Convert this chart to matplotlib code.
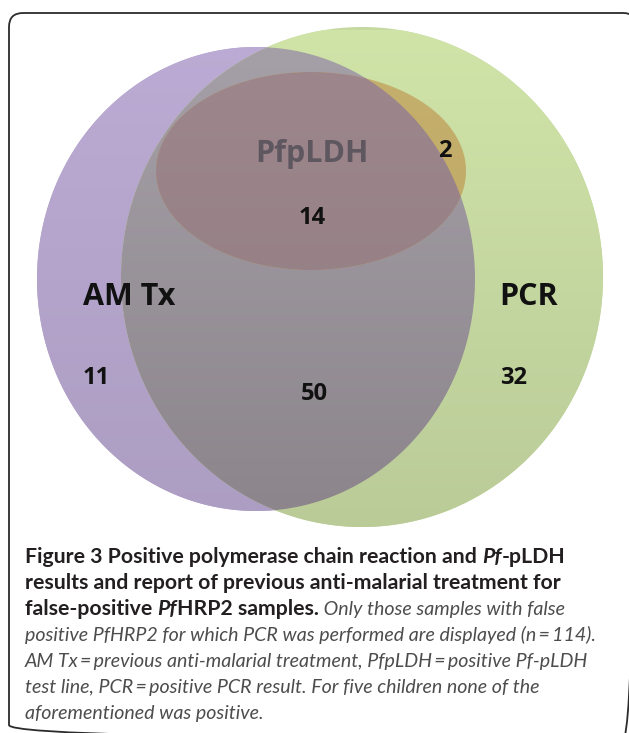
import numpy as np
import matplotlib
matplotlib.use('Agg')
import matplotlib.pyplot as plt
from matplotlib.colors import to_rgb
from matplotlib.patches import Polygon, FancyBboxPatch

# --- data -------------------------------------------------------------
set_names = ['AM Tx', 'PCR', 'PfpLDH']
region_names = ['AM Tx only', 'PCR only', 'AM Tx + PCR', 'AM Tx + PCR + PfpLDH', 'PCR + PfpLDH']
region_counts = [11, 32, 50, 14, 2]

caption_lines = [
    [('Figure 3 Positive polymerase chain reaction and ', 'b'), ('Pf', 'bi'), ('-pLDH', 'b')],
    [('results and report of previous anti-malarial treatment for', 'b')],
    [('false-positive ', 'b'), ('Pf', 'bi'), ('HRP2 samples.', 'b'), (' Only those samples with false', 'i')],
    [('positive PfHRP2 for which PCR was performed are displayed (n\u2009=\u2009114).', 'i')],
    [('AM Tx\u2009=\u2009previous anti-malarial treatment, PfpLDH\u2009=\u2009positive Pf-pLDH', 'i')],
    [('test line, PCR\u2009=\u2009positive PCR result. For five children none of the', 'i')],
    [('aforementioned was positive.', 'i')],
]

W, H = 629, 733
plt.rcParams['font.family'] = ['Lato', 'DejaVu Sans']

fig = plt.figure(figsize=(W / 100, H / 100), dpi=100)
ax = fig.add_axes([0, 0, 1, 1])


def ellipse_pts(cx, cy, rx, ry, n=360):
    t = np.linspace(0, 2 * np.pi, n, endpoint=False)
    return np.column_stack([cx + rx * np.cos(t), cy + ry * np.sin(t)])


def clip_poly(subject, clipper):
    # Sutherland-Hodgman, clipper is convex
    x, y = clipper[:, 0], clipper[:, 1]
    sgn = np.sign(np.sum(x * np.roll(y, -1) - np.roll(x, -1) * y))
    out = [tuple(p) for p in subject]
    for i in range(len(clipper)):
        a, b = clipper[i], clipper[(i + 1) % len(clipper)]
        inp, out = out, []
        if not inp:
            break

        def side(p):
            return sgn * ((b[0] - a[0]) * (p[1] - a[1]) - (b[1] - a[1]) * (p[0] - a[0]))

        for j in range(len(inp)):
            p, q = inp[j - 1], inp[j]
            sp, sq = side(p), side(q)
            if sq >= 0:
                if sp < 0:
                    f = sp / (sp - sq)
                    out.append((p[0] + f * (q[0] - p[0]), p[1] + f * (q[1] - p[1])))
                out.append(q)
            elif sp >= 0:
                f = sp / (sp - sq)
                out.append((p[0] + f * (q[0] - p[0]), p[1] + f * (q[1] - p[1])))
    return np.array(out)


def fill_region(xy, top, bottom):
    c0, c1 = np.array(to_rgb(top)), np.array(to_rgb(bottom))
    mid = (c0 + c1) / 2
    poly = Polygon(xy, closed=True, fc=mid, ec='none', transform=ax.transData)
    ax.add_patch(poly)
    g = np.linspace(0, 1, 256)[:, None]
    img = (c0 + (c1 - c0) * g)[:, None, :]
    im = ax.imshow(img, extent=(0, W, 530, 30), aspect='auto', zorder=poly.get_zorder() + 0.01)
    im.set_clip_path(poly)


purple = ellipse_pts(256, 279, 219, 232)
green = ellipse_pts(362, 277, 241, 250)
pink = ellipse_pts(311, 171, 155, 99)

fill_region(purple, '#bcabd4', '#ac9dc2')
fill_region(green, '#d0e4a8', '#bacb98')
fill_region(clip_poly(purple, green), '#a6a0a8', '#8b848b')
fill_region(clip_poly(pink, green), '#c6b06e', '#bba462')
fill_region(clip_poly(clip_poly(pink, green), purple), '#9e888d', '#8f7a80')

# --- labels -----------------------------------------------------------
lab = dict(ha='center', va='baseline', fontweight='bold', family=['Open Sans', 'DejaVu Sans'])
ax.text(129, 305, set_names[0], fontsize=22, color='#111111', **lab)
ax.text(529, 305, set_names[1], fontsize=22, color='#111111', **lab)
ax.text(312, 162, set_names[2], fontsize=22, color='#5e5760', **lab)

count_pos = [(96, 384), (514, 384), (314, 400), (312, 224), (445, 157)]
for (x, y), n in zip(count_pos, region_counts):
    ax.text(x, y, str(n), fontsize=17, color='#111111', **lab)

# frame, runs off the right and bottom edges
ax.add_patch(FancyBboxPatch((9, 13), 628, 726, boxstyle='round,pad=0,rounding_size=14',
                            fill=False, ec='#2b2b2b', lw=1.3))

ax.set_xlim(0, W)
ax.set_ylim(H, 0)
ax.axis('off')

# --- caption ----------------------------------------------------------
styles = {
    'b': dict(fontweight='bold', fontstyle='normal', color='#231f20'),
    'bi': dict(fontweight='bold', fontstyle='italic', color='#231f20'),
    'i': dict(fontweight='normal', fontstyle='italic', color='#4d4d4d'),
}
renderer = fig.canvas.get_renderer()


def width_of(s, fs, st):
    t = ax.text(0, 0, s, fontsize=fs, **styles[st])
    w = t.get_window_extent(renderer).width
    t.remove()
    return w


fs_b = 14 * 540 / width_of(caption_lines[1][0][0], 14, 'b')
fs_i = 14 * 573 / width_of(caption_lines[3][0][0], 14, 'i')
sizes = {'b': fs_b, 'bi': fs_b, 'i': fs_i}
for k, line in enumerate(caption_lines):
    x = 25
    y = 563 + 26 * k
    for s, st in line:
        ax.text(x, y, s, fontsize=sizes[st], ha='left', va='baseline', **styles[st])
        x += width_of(s, sizes[st], st)

fig.savefig('out.png', dpi=100)
